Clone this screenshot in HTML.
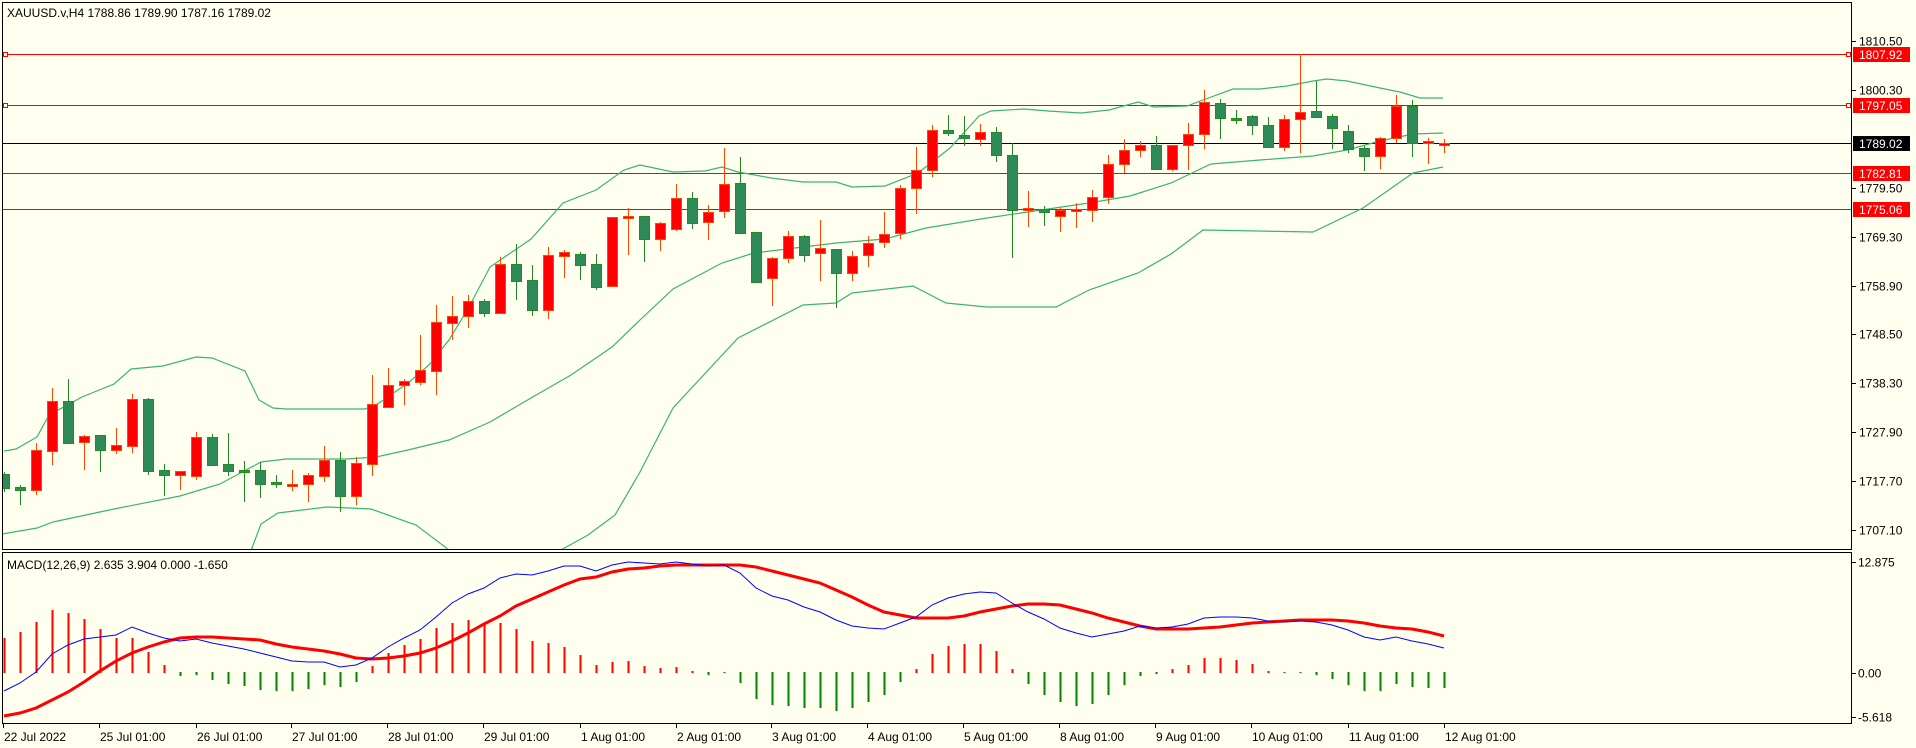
<!DOCTYPE html>
<html><head><meta charset="utf-8">
<style>
html,body{margin:0;padding:0;background:#fffff0;}
svg{display:block;font-family:"Liberation Sans",sans-serif;}
</style></head>
<body>
<svg id="s" width="1916" height="748" xmlns="http://www.w3.org/2000/svg"></svg>
<script>
const S=document.getElementById('s');let h='';
h+='<rect x="0" y="0" width="1916" height="748" fill="#fffff0"/>';
h+='<defs><clipPath id="cm"><rect x="2" y="2" width="1850" height="548"/></clipPath></defs>';
// horizontal lines
[[54,'#ff0000'],[105,'#ff0000'],[173,'#ff0000'],[209,'#ff0000'],[143,'#000']].forEach(l=>{h+=`<line x1="2" x2="1852" y1="${l[0]+.5}" y2="${l[0]+.5}" stroke="${l[1]}" stroke-width="1"/>`;});
[54,105].forEach(y=>{h+=`<rect x="3.5" y="${y-1.5}" width="4" height="4" fill="#fffff0" stroke="#f00"/>`;h+=`<rect x="1846.5" y="${y-1.5}" width="4" height="4" fill="#fffff0" stroke="#f00"/>`;});
const up=[[4,451],[16,449],[37,437],[49,415],[82,397],[114,384],[131,369],[163,366],[196,357],[212,358],[245,371],[259,400],[273,408],[286,409],[365,409],[376,405],[392,394],[408,383],[429,365],[449,340],[469,307],[490,267],[531,239],[563,203],[596,190],[624,170],[640,165],[673,172],[705,171],[722,167],[738,172],[771,178],[803,182],[836,182],[852,187],[885,186],[918,173],[950,148],[979,116],[991,111],[1024,109],[1048,111],[1081,113],[1109,110],[1138,102],[1154,107],[1187,106],[1203,100],[1233,89],[1260,89],[1287,86],[1313,81],[1327,79],[1347,81],[1380,88],[1400,92],[1420,98],[1443,98]];
const mid=[[2,534],[37,528],[53,522],[114,509],[180,496],[220,484],[261,462],[286,459],[347,459],[376,457],[408,450],[449,440],[490,422],[531,398],[571,375],[612,347],[640,320],[673,289],[722,263],[754,253],[836,243],[885,239],[926,228],[987,218],[1048,209],[1089,203],[1130,196],[1171,183],[1211,164],[1260,160],[1313,156],[1347,150],[1380,141],[1413,134],[1443,133]];
const lo1=[[249,556],[261,524],[278,513],[327,507],[371,509],[416,525],[457,556]];
const lo2=[[550,556],[588,535],[615,515],[640,472],[673,408],[738,338],[803,305],[836,303],[852,293],[913,286],[946,303],[987,307],[1056,307],[1089,290],[1138,273],[1171,254],[1203,230],[1313,232],[1363,208],[1413,173],[1443,167]];
const pl=(a,c,w)=>`<polyline points="${a.map(p=>p.join(',')).join(' ')}" fill="none" stroke="${c}" stroke-width="${w}"/>`;
h+='<g clip-path="url(#cm)">';
[up,mid,lo1,lo2].forEach(a=>h+=pl(a,'#3cb371',1.2));
const C=[[472,474,488,492,'g'],[485,487,490,505,'g'],[443,450,490,495,'r'],[388,401,451,465,'r'],[379,401,443,444,'g'],[435,436,442,470,'r'],[435,435,450,472,'g'],[428,445,450,454,'r'],[394,399,446,453,'r'],[398,399,471,475,'g'],[464,470,475,496,'g'],[471,471,475,490,'r'],[432,437,476,480,'r'],[434,437,465,466,'g'],[433,464,471,476,'g'],[461,470,472,502,'g'],[462,470,484,498,'g'],[475,482,484,488,'g'],[470,484,486,491,'r'],[473,475,484,502,'r'],[446,460,476,482,'r'],[452,460,496,512,'g'],[457,463,496,505,'r'],[375,404,464,476,'r'],[368,385,407,408,'r'],[379,381,385,405,'r'],[335,370,382,385,'r'],[305,322,371,395,'r'],[296,316,323,340,'r'],[295,301,316,328,'r'],[299,301,313,317,'g'],[257,264,313,313,'r'],[244,264,281,300,'g'],[265,280,310,316,'g'],[247,255,310,319,'r'],[250,252,256,278,'r'],[252,254,265,280,'g'],[254,264,287,290,'g'],[217,217,286,286,'r'],[208,216,218,255,'r'],[216,216,239,262,'g'],[222,223,239,251,'r'],[184,198,229,231,'r'],[192,198,223,229,'g'],[205,212,222,240,'r'],[148,184,211,218,'r'],[157,183,233,233,'g'],[232,232,282,283,'g'],[257,258,278,306,'r'],[231,236,258,263,'r'],[235,236,255,262,'g'],[220,248,253,281,'r'],[249,249,273,308,'g'],[251,256,273,281,'r'],[236,243,255,267,'r'],[212,234,242,248,'r'],[185,188,233,239,'r'],[147,170,188,214,'r'],[125,130,170,177,'r'],[115,130,133,136,'g'],[116,135,138,146,'g'],[124,132,139,146,'r'],[127,132,155,162,'g'],[143,155,210,258,'g'],[191,208,210,227,'r'],[206,209,212,226,'g'],[208,210,216,232,'r'],[203,209,211,228,'r'],[190,197,210,222,'r'],[155,164,197,204,'r'],[139,150,164,173,'r'],[141,145,150,157,'r'],[136,145,169,169,'g'],[145,145,169,171,'r'],[123,134,145,170,'r'],[90,102,134,149,'r'],[99,103,118,139,'g'],[110,118,120,124,'g'],[115,116,125,135,'g'],[117,125,147,147,'g'],[115,119,147,151,'r'],[54,112,119,153,'r'],[81,111,117,117,'g'],[114,116,128,149,'g'],[125,131,149,153,'g'],[146,148,156,171,'g'],[137,138,156,169,'r'],[95,106,138,143,'r'],[100,106,143,157,'g'],[138,141,143,164,'r'],[139,143,145,153,'r']];
C.forEach((c,i)=>{const x=4+16*i;const st=c[4]=='r'?'#ff4500':'#228b22';const fl=c[4]=='r'?'#ff0000':'#2e8b57';
h+=`<line x1="${x+.5}" x2="${x+.5}" y1="${c[0]}" y2="${c[3]}" stroke="${st}" stroke-width="1"/>`;
const bh=Math.max(c[2]-c[1],1);
if(c[2]-c[1]<2){h+=`<line x1="${x-5}" x2="${x+6}" y1="${c[1]+.5}" y2="${c[1]+.5}" stroke="${st}" stroke-width="2"/>`;}
else h+=`<rect x="${x-4.5}" y="${c[1]+.5}" width="10" height="${bh}" fill="${fl}" stroke="${st}" stroke-width="1"/>`;});
h+='</g>';
// frame
h+='<rect x="2.5" y="2.5" width="1849" height="547" fill="none" stroke="#000"/>';
h+='<rect x="2.5" y="552.5" width="1849" height="171" fill="none" stroke="#000"/>';
h+='<text x="7" y="17" font-size="12" fill="#000">XAUUSD.v,H4  1788.86 1789.90 1787.16 1789.02</text>';
h+='<text x="7" y="569" font-size="12" fill="#000">MACD(12,26,9) 2.635 3.904 0.000 -1.650</text>';
// price axis
[[41,'1810.50'],[90,'1800.30'],[188,'1779.50'],[237,'1769.30'],[286,'1758.90'],[334,'1748.50'],[383,'1738.30'],[432,'1727.90'],[481,'1717.70'],[530,'1707.10']].forEach(t=>{h+=`<line x1="1852" x2="1856" y1="${t[0]+.5}" y2="${t[0]+.5}" stroke="#000"/><text x="1859" y="${t[0]+4.5}" font-size="12" fill="#000">${t[1]}</text>`;});
[[54,'1807.92','#ff0000'],[105,'1797.05','#ff0000'],[173,'1782.81','#ff0000'],[209,'1775.06','#ff0000'],[143,'1789.02','#000']].forEach(t=>{h+=`<rect x="1853" y="${t[0]-7}" width="57" height="15" fill="${t[2]}"/><text x="1859" y="${t[0]+5}" font-size="12" fill="#fff">${t[1]}</text>`;});
[[562,'12.875'],[673,'0.00'],[717,'-5.618']].forEach(t=>{h+=`<line x1="1852" x2="1856" y1="${t[0]+.5}" y2="${t[0]+.5}" stroke="#000"/><text x="1858" y="${t[0]+4.5}" font-size="12" fill="#000">${t[1]}</text>`;});
// time axis
[[3,'22 Jul 2022'],[99,'25 Jul 01:00'],[196,'26 Jul 01:00'],[291,'27 Jul 01:00'],[387,'28 Jul 01:00'],[483,'29 Jul 01:00'],[580,'1 Aug 01:00'],[676,'2 Aug 01:00'],[771,'3 Aug 01:00'],[867,'4 Aug 01:00'],[963,'5 Aug 01:00'],[1059,'8 Aug 01:00'],[1155,'9 Aug 01:00'],[1251,'10 Aug 01:00'],[1348,'11 Aug 01:00'],[1444,'12 Aug 01:00']].forEach(t=>{h+=`<line x1="${t[0]+.5}" x2="${t[0]+.5}" y1="724" y2="728" stroke="#000"/><text x="${t[0]+1}" y="741" font-size="12" fill="#000">${t[1]}</text>`;});
// MACD histogram
const H=[638,632,622,610,613,619,629,638,638,652,665,676,675,680,684,686,690,691,691,689,685,687,682,666,653,645,639,628,623,620,625,623,629,641,643,647,655,665,662,661,666,668,667,671,675,673,683,699,705,706,708,708,711,708,702,695,682,669,654,646,644,644,651,669,684,695,702,706,704,695,685,676,674,669,665,658,658,660,664,671,673,673,675,679,685,691,691,684,687,688,688];
H.forEach((y,i)=>{const x=4+16*i;const c=y<672?'#ff0000':'#008000';const a=Math.min(y,672),b=Math.max(y,673);h+=`<rect x="${x-0.5}" y="${a}" width="2" height="${Math.max(b-a,1)}" fill="${c}"/>`;});
const B=[691,683,672,654,645,639,637,635,627,633,638,641,639,643,646,649,653,657,661,662,662,667,665,658,647,638,630,617,603,594,588,578,574,575,571,566,566,571,565,562,563,564,562,564,566,565,573,588,596,600,607,612,620,626,628,629,623,617,605,598,594,592,593,603,612,619,628,633,637,634,631,626,628,627,624,618,617,617,618,621,622,621,622,625,630,637,640,637,641,644,648];
const R=[716,713,708,700,692,682,671,661,653,647,642,638,637,637,638,639,640,644,647,649,651,654,658,659,658,656,653,648,641,633,624,616,606,599,592,585,579,577,572,569,568,566,565,565,565,565,565,567,571,575,579,583,590,597,605,612,615,618,618,618,616,612,609,606,604,604,605,609,613,618,622,626,629,629,629,628,627,625,623,622,621,620,620,620,621,623,626,628,629,632,636];
h+=pl(R.map((y,i)=>[4+16*i,y]),'#ff0000',3);
h+=pl(B.map((y,i)=>[4+16*i,y]),'#0000ff',1);
S.innerHTML=h;
</script>
</body></html>
